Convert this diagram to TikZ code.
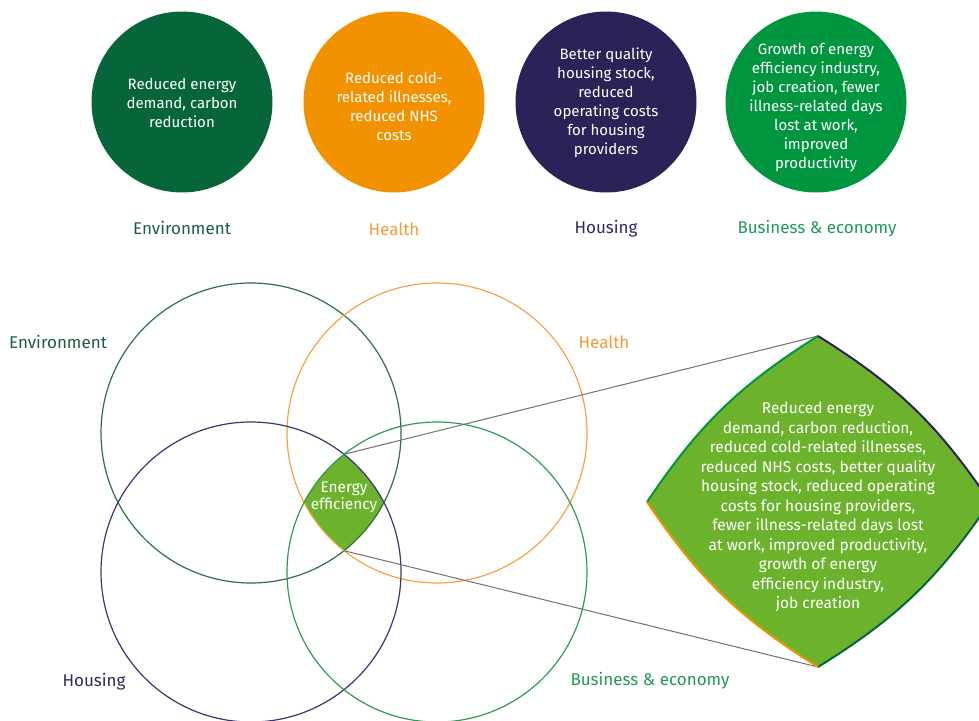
\documentclass[tikz,border=0pt]{standalone}
\usepackage{fontspec}
\setmainfont{Fira Sans}
\definecolor{envfill}{HTML}{07653A}
\definecolor{healthfill}{HTML}{F39200}
\definecolor{housefill}{HTML}{2B2358}
\definecolor{busfill}{HTML}{00963F}
\definecolor{lensgreen}{HTML}{6CB22D}
\definecolor{envline}{HTML}{2F6E48}
\definecolor{healthline}{HTML}{F5A247}
\definecolor{houseline}{HTML}{3A3470}
\definecolor{busline}{HTML}{2E9A55}
\definecolor{envtext}{HTML}{1D5E3E}
\definecolor{healthtext}{HTML}{F39A3A}
\definecolor{housetext}{HTML}{2E2A5E}
\definecolor{bustext}{HTML}{1E9A55}
\definecolor{linkgray}{HTML}{707070}
\begin{document}
\begin{tikzpicture}[x=1pt,y=-1pt,
  topcirc/.style={circle, minimum size=181pt, inner sep=0pt},
  circtext/.style={align=center, text=white, font=\fontsize{15}{19}\selectfont, inner sep=0pt},
  catlabel/.style={font=\fontsize{17}{19}\selectfont, inner sep=0pt},
  venn/.style={circle, minimum size=300pt, inner sep=0pt, line width=1.2pt},
  link/.style={draw=linkgray, line width=1pt},
  lensedge/.style={line width=2pt}]
\useasboundingbox (0,0) rectangle (979,720);

% top circles
\node[topcirc, fill=envfill] (c1) at (182,102) {};
\node[topcirc, fill=healthfill] (c2) at (394,102) {};
\node[topcirc, fill=housefill] (c3) at (606,102) {};
\node[topcirc, fill=busfill] (c4) at (816,102) {};
\node[circtext] (t1) at (182,103) {Reduced energy\\demand, carbon\\reduction};
\node[circtext] (t2) at (394,106) {Reduced cold-\\related illnesses,\\reduced NHS\\costs};
\node[circtext] (t3) at (606,103) {Better quality\\housing stock,\\reduced\\operating costs\\for housing\\providers};
\node[circtext] (t4) at (816,107) {Growth of energy\\efficiency industry,\\job creation, fewer\\illness-related days\\lost at work,\\improved\\productivity};
\node[catlabel, text=envtext] (l1) at (182,228) {Environment};
\node[catlabel, text=healthtext] (l2) at (394,229) {Health};
\node[catlabel, text=housetext] (l3) at (606,229) {Housing};
\node[catlabel, text=bustext] (l4) at (817,229) {Business \& economy};

% lens fill (intersection of all four)
\begin{scope}
  \clip (251,433) circle (150pt);
  \clip (437,433) circle (150pt);
  \clip (251,572) circle (150pt);
  \fill[lensgreen] (437,572) circle (150pt);
\end{scope}

% venn circles
\node[venn, draw=envline] (venv) at (251,433) {};
\node[venn, draw=healthline] (vhealth) at (437,433) {};
\node[venn, draw=houseline] (vhouse) at (251,572) {};
\node[venn, draw=busline] (vbus) at (437,572) {};

\node[catlabel, text=envtext] (vl1) at (58,342) {Environment};
\node[catlabel, text=healthtext] (vl2) at (604,342) {Health};
\node[catlabel, text=housetext] (vl3) at (94,682) {Housing};
\node[catlabel, text=bustext] (vl4) at (650,681) {Business \& economy};

\node[circtext, text=white, font=\fontsize{15.4}{17}\selectfont] (ee) at (344,497) {Energy\\efficiency};

% big lens
\coordinate (stop) at (344,454.3);
\coordinate (sbot) at (344,550.7);
\coordinate (btop) at (818,336);
\coordinate (bbot) at (818,667);
\coordinate (bleft) at (647,502);
\coordinate (bright) at (990,502);

\draw[link] (stop) -- (btop);
\draw[link] (sbot) -- (bbot);

\fill[lensgreen] (bleft) to[bend left=12] (btop) to[bend left=12] (bright)
  to[bend left=12] (bbot) to[bend left=12] (bleft) -- cycle;
\draw[lensedge, draw=busfill] (bleft) to[bend left=12] (btop);
\draw[lensedge, draw=housefill] (btop) to[bend left=12] (bright);
\draw[lensedge, draw=envfill] (bright) to[bend left=12] (bbot);
\draw[lensedge, draw=healthfill] (bbot) to[bend left=12] (bleft);

\node[circtext, font=\fontsize{15.5}{19.5}\selectfont] (bt) at (818,507) {Reduced energy\\demand, carbon reduction,\\reduced cold-related illnesses,\\reduced NHS costs, better quality\\housing stock, reduced operating\\costs for housing providers,\\fewer illness-related days lost\\at work, improved productivity,\\growth of energy\\efficiency industry,\\job creation};
\end{tikzpicture}
\end{document}
